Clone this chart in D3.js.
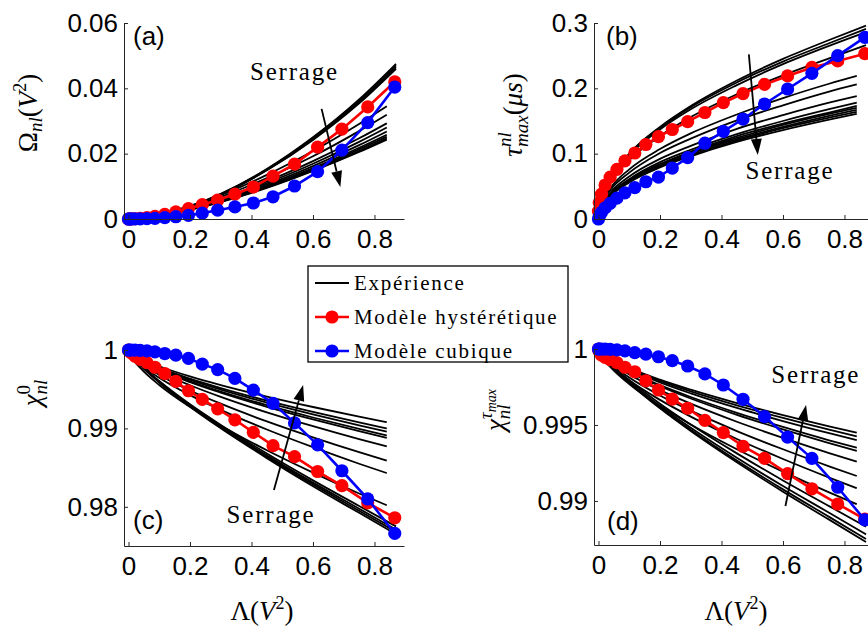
<!DOCTYPE html>
<html><head><meta charset="utf-8">
<script src="https://cdn.jsdelivr.net/npm/d3@7"></script>
<style>body{margin:0;background:#fff} svg{display:block}</style>
</head><body>
<svg id="c" width="868" height="627"></svg>
<script>
// ---------------- DATA ----------------
const xTicks = [0, 0.2, 0.4, 0.6, 0.8];
const xTickLabels = ['0', '0.2', '0.4', '0.6', '0.8'];

const xModel = [0, 0.0024, 0.0096, 0.0216, 0.038, 0.06, 0.086, 0.118, 0.154, 0.195, 0.24, 0.29, 0.346, 0.406, 0.47, 0.54, 0.615, 0.694, 0.778, 0.866];
const xExpLong = [0, 0.01, 0.04, 0.1, 0.2, 0.3, 0.45, 0.6, 0.75, 0.87];
const xExpShort = [0, 0.01, 0.04, 0.1, 0.2, 0.3, 0.45, 0.6, 0.75, 0.84];

// (a) Omega_nl
const omegaTicks = [0, 0.02, 0.04, 0.06];
const omegaTickLabels = ['0', '0.02', '0.04', '0.06'];
const omegaHyst = [0, 0.00001, 0.00002, 0.00008, 0.0002, 0.00045, 0.0008, 0.0014, 0.0022, 0.0032, 0.0044, 0.0058, 0.0076, 0.0098, 0.0131, 0.0168, 0.022, 0.0275, 0.0343, 0.042];
const omegaCubic = [0, 0, 0.00001, 0.00002, 0.00004, 0.0001, 0.0002, 0.0004, 0.0007, 0.0011, 0.0018, 0.0027, 0.0037, 0.0049, 0.0068, 0.0101, 0.0145, 0.0211, 0.0295, 0.0404];
const omegaExp = [
  [0, 0.00002, 0.00025, 0.0012, 0.0039, 0.0077, 0.0153, 0.0250, 0.0366, 0.0475],
  [0, 0.00002, 0.00025, 0.0012, 0.0038, 0.0076, 0.0152, 0.0248, 0.0362, 0.0470],
  [0, 0.00002, 0.00025, 0.0012, 0.0038, 0.0075, 0.0150, 0.0245, 0.0358, 0.0465],
  [0, 0.00002, 0.00024, 0.0011, 0.0038, 0.0075, 0.0149, 0.0242, 0.0354, 0.0460],
  [0, 0.00004, 0.00036, 0.0014, 0.0040, 0.0073, 0.0135, 0.0208, 0.0291, 0.0345],
  [0, 0.00004, 0.00033, 0.0013, 0.0037, 0.0068, 0.0125, 0.0192, 0.0269, 0.0319],
  [0, 0.00004, 0.00030, 0.0012, 0.0034, 0.0062, 0.0115, 0.0177, 0.0247, 0.0293],
  [0, 0.00004, 0.00029, 0.0011, 0.0032, 0.0060, 0.0110, 0.0169, 0.0236, 0.0280],
  [0, 0.00003, 0.00028, 0.0011, 0.0031, 0.0057, 0.0105, 0.0162, 0.0226, 0.0268],
  [0, 0.00003, 0.00027, 0.0011, 0.0030, 0.0055, 0.0101, 0.0156, 0.0218, 0.0258],
  [0, 0.00003, 0.00026, 0.0010, 0.0029, 0.0054, 0.0099, 0.0152, 0.0213, 0.0252],
  [0, 0.00003, 0.00026, 0.0010, 0.0029, 0.0053, 0.0097, 0.0149, 0.0208, 0.0247],
  [0, 0.00003, 0.00025, 0.0010, 0.0028, 0.0052, 0.0095, 0.0147, 0.0205, 0.0243]
];

// (b) tau_max^nl
const tauTicks = [0, 0.1, 0.2, 0.3];
const tauTickLabels = ['0', '0.1', '0.2', '0.3'];
const tauHyst = [0.012, 0.025, 0.038, 0.052, 0.064, 0.076, 0.089, 0.101, 0.114, 0.126, 0.137, 0.149, 0.163, 0.178, 0.192, 0.206, 0.219, 0.232, 0.242, 0.253];
const tauCubic = [0, 0.004, 0.010, 0.017, 0.024, 0.032, 0.040, 0.048, 0.057, 0.064, 0.078, 0.094, 0.116, 0.134, 0.153, 0.176, 0.199, 0.223, 0.250, 0.278];
const tauExp = [
  [0, 0.032, 0.063, 0.100, 0.141, 0.173, 0.212, 0.245, 0.274, 0.296],
  [0, 0.031, 0.062, 0.098, 0.139, 0.171, 0.209, 0.241, 0.269, 0.291],
  [0, 0.031, 0.061, 0.097, 0.137, 0.168, 0.205, 0.237, 0.265, 0.286],
  [0, 0.028, 0.057, 0.090, 0.127, 0.156, 0.191, 0.220, 0.246, 0.266],
  [0, 0.024, 0.048, 0.076, 0.107, 0.131, 0.160, 0.185, 0.207, 0.219],
  [0, 0.022, 0.045, 0.071, 0.101, 0.123, 0.151, 0.174, 0.195, 0.206],
  [0, 0.020, 0.041, 0.065, 0.092, 0.112, 0.138, 0.159, 0.178, 0.188],
  [0, 0.019, 0.039, 0.061, 0.087, 0.106, 0.130, 0.150, 0.168, 0.178],
  [0, 0.019, 0.038, 0.060, 0.084, 0.103, 0.127, 0.146, 0.163, 0.173],
  [0, 0.0185, 0.037, 0.059, 0.083, 0.102, 0.124, 0.144, 0.161, 0.170],
  [0, 0.018, 0.036, 0.058, 0.081, 0.100, 0.122, 0.141, 0.158, 0.167],
  [0, 0.018, 0.036, 0.057, 0.080, 0.098, 0.120, 0.139, 0.155, 0.164],
  [0, 0.018, 0.035, 0.056, 0.079, 0.096, 0.118, 0.136, 0.152, 0.161]
];

// (c) chi_nl^0
const chiTicks = [0.98, 0.99, 1];
const chiTickLabels = ['0.98', '0.99', '1'];
const chiHyst = [1, 0.99985, 0.9996, 0.9992, 0.9988, 0.9984, 0.9978, 0.9970, 0.9960, 0.9948, 0.9937, 0.9925, 0.9911, 0.9895, 0.9878, 0.9864, 0.9845, 0.9827, 0.9805, 0.9786];
const chiCubic = [1, 1, 1, 0.99998, 0.99995, 0.9999, 0.99976, 0.99955, 0.99934, 0.99894, 0.9982, 0.9975, 0.99638, 0.99489, 0.9932, 0.9907, 0.9879, 0.9846, 0.9810, 0.9766];
const chiExp = [
  [1, 0.99934, 0.99801, 0.99586, 0.99276, 0.99001, 0.98621, 0.98263, 0.97923, 0.9765],
  [1, 0.99935, 0.99803, 0.99592, 0.99285, 0.99014, 0.98638, 0.98286, 0.97949, 0.9768],
  [1, 0.99936, 0.99806, 0.99597, 0.99295, 0.99027, 0.98656, 0.98308, 0.97976, 0.9771],
  [1, 0.99937, 0.99809, 0.99604, 0.99307, 0.99044, 0.98679, 0.98337, 0.98011, 0.9775],
  [1, 0.99911, 0.99765, 0.99554, 0.99275, 0.99038, 0.98721, 0.98436, 0.98170, 0.9802],
  [1, 0.99929, 0.99814, 0.99646, 0.99425, 0.99237, 0.98986, 0.98760, 0.98549, 0.9843],
  [1, 0.99937, 0.99833, 0.99682, 0.99484, 0.99315, 0.99089, 0.98886, 0.98697, 0.9859],
  [1, 0.99945, 0.99854, 0.99723, 0.99550, 0.99402, 0.99205, 0.99028, 0.98863, 0.9877],
  [1, 0.99950, 0.99867, 0.99748, 0.99590, 0.99456, 0.99276, 0.99115, 0.98965, 0.9888],
  [1, 0.99951, 0.99871, 0.99754, 0.99601, 0.99470, 0.99296, 0.99139, 0.98993, 0.9891],
  [1, 0.99953, 0.99877, 0.99766, 0.99619, 0.99495, 0.99328, 0.99178, 0.99039, 0.9896],
  [1, 0.99955, 0.99881, 0.99775, 0.99634, 0.99514, 0.99354, 0.99210, 0.99076, 0.9900],
  [1, 0.99959, 0.99891, 0.99793, 0.99663, 0.99553, 0.99406, 0.99273, 0.99150, 0.9908]
];

// (d) chi_nl^tau_max
const chiTauTicks = [0.99, 0.995, 1];
const chiTauTickLabels = ['0.99', '0.995', '1'];
const chiTauHyst = [1, 0.99985, 0.9996, 0.99945, 0.9993, 0.9991, 0.9988, 0.9985, 0.9979, 0.9973, 0.9967, 0.9961, 0.9953, 0.9945, 0.9936, 0.9928, 0.9918, 0.9908, 0.9898, 0.9888];
const chiTauCubic = [1, 1, 1, 0.99999, 0.99997, 0.99994, 0.99988, 0.99976, 0.99966, 0.99949, 0.99923, 0.99888, 0.99836, 0.99763, 0.99669, 0.99555, 0.9942, 0.9928, 0.9909, 0.98875];
const chiTauExp = [
  [1, 0.99965, 0.99892, 0.99776, 0.99609, 0.99460, 0.99254, 0.99061, 0.98877, 0.9873],
  [1, 0.99965, 0.99894, 0.99780, 0.99615, 0.99469, 0.99266, 0.99076, 0.98895, 0.9875],
  [1, 0.99966, 0.99897, 0.99785, 0.99624, 0.99482, 0.99284, 0.99098, 0.98922, 0.9878],
  [1, 0.99967, 0.99901, 0.99794, 0.99640, 0.99503, 0.99313, 0.99135, 0.98966, 0.9883],
  [1, 0.99954, 0.99879, 0.99770, 0.99626, 0.99503, 0.99340, 0.99193, 0.99056, 0.98978],
  [1, 0.99959, 0.99891, 0.99794, 0.99665, 0.99555, 0.99408, 0.99276, 0.99154, 0.99084],
  [1, 0.99962, 0.99901, 0.99812, 0.99694, 0.99594, 0.99460, 0.99340, 0.99228, 0.99164],
  [1, 0.99967, 0.99912, 0.99833, 0.99729, 0.99640, 0.99521, 0.99415, 0.99315, 0.99259],
  [1, 0.99970, 0.99921, 0.99849, 0.99755, 0.99674, 0.99567, 0.99471, 0.99381, 0.9933],
  [1, 0.99971, 0.99923, 0.99853, 0.99762, 0.99684, 0.99580, 0.99487, 0.99399, 0.9935],
  [1, 0.99973, 0.99929, 0.99865, 0.99780, 0.99708, 0.99612, 0.99526, 0.99446, 0.9940],
  [1, 0.99974, 0.99932, 0.99870, 0.99790, 0.99721, 0.99629, 0.99546, 0.99469, 0.99425],
  [1, 0.99975, 0.99935, 0.99876, 0.99798, 0.99732, 0.99644, 0.99565, 0.99491, 0.99449]
];

const legendLabels = ['Expérience', 'Modèle hystérétique', 'Modèle cubique'];
const seriesColors = ['#000000', '#ff0000', '#0000ff'];

// ---------------- DRAWING ----------------
const SANS = "'Liberation Sans', Arial, Helvetica, sans-serif";
const SERIF = "'Liberation Serif', 'Times New Roman', serif";
const svg = d3.select('#c');
const xDomain = [-0.0146, 0.896];

const panels = [
  {left:124, top:23, bottom:219, yDomain:[0,0.06], ticks:omegaTicks, tickLabels:omegaTickLabels,
   exp:omegaExp, hyst:omegaHyst, cubic:omegaCubic, tag:'(a)', tagPos:[133,45],
   arrow:[[0.628,0.0337],[0.689,0.0098]], serrage:[0.395,0.0427],
   ylab:{pos:[37,113], parts:[{t:'Ω'},{t:'nl',it:1,size:19,shift:5},{t:'(',shift:0},{t:'V',it:1},{t:'2',size:18,shift:-11},{t:')',shift:0}]}},
  {left:594, top:23, bottom:219, yDomain:[0,0.3], ticks:tauTicks, tickLabels:tauTickLabels,
   exp:tauExp, hyst:tauHyst, cubic:tauCubic, tag:'(b)', tagPos:[606,45],
   arrow:[[0.489,0.252],[0.518,0.098]], serrage:[0.478,0.0608],
   ylab:{pos:[522,115], parts:[{t:'τ',it:1},{t:'nl',it:1,size:19,shift:-11},{t:'max',it:1,size:19,shift:6,back:1},{t:'(',shift:0},{t:'μs',it:1},{t:')'}]}},
  {left:124, top:350, bottom:546, yDomain:[0.975,1], ticks:chiTicks, tickLabels:chiTickLabels,
   exp:chiExp, hyst:chiHyst, cubic:chiCubic, tag:'(c)', tagPos:[133,529],
   arrow:[[0.473,0.98214],[0.568,0.99554]], serrage:[0.319,0.97797],
   ylab:{pos:[41,393], parts:[{t:'χ',it:1},{t:'0',size:19,shift:-11},{t:'nl',it:1,size:19,shift:6,back:1}]}},
  {left:594, top:349, bottom:545, yDomain:[0.9871,1], ticks:chiTauTicks, tickLabels:chiTauTickLabels,
   exp:chiTauExp, hyst:chiTauHyst, cubic:chiTauCubic, tag:'(d)', tagPos:[607,530],
   arrow:[[0.608,0.98967],[0.675,0.99631]], serrage:[0.562,0.99774],
   ylab:{pos:[504,410], parts:[{t:'χ',it:1},{t:'τ',it:1,size:19,shift:-12},{t:'max',it:1,size:14,shift:-8},{t:'nl',it:1,size:19,shift:6,back:2}]}}
];

function mathText(parent, x, y, rot, parts, size, anchor) {
  const t = parent.append('text')
    .attr('transform', `translate(${x},${y}) rotate(${rot})`)
    .attr('text-anchor', anchor || 'middle')
    .attr('font-family', SERIF).attr('font-size', size).attr('fill', '#000');
  let cur = 0;
  const spans = [];
  parts.forEach(p => {
    const ts = t.append('tspan').text(p.t);
    const sh = p.shift || 0;
    if (sh - cur !== 0) ts.attr('dy', sh - cur);
    cur = sh;
    if (p.it) ts.attr('font-style', 'italic');
    if (p.size) ts.attr('font-size', p.size);
    if (p.back) {
      let w = 0;
      for (let k = 1; k <= p.back; k++) w += spans[spans.length - k].node().getComputedTextLength();
      ts.attr('dx', -w);
    }
    spans.push(ts);
  });
  return t;
}

function drawArrow(g, x1, y1, x2, y2) {
  const dx = x2 - x1, dy = y2 - y1, L = Math.hypot(dx, dy);
  const ux = dx / L, uy = dy / L, nx = -uy, ny = ux;
  const hl = 16, hw = 5.5;
  const bx = x2 - ux * hl, by = y2 - uy * hl;
  g.append('line').attr('x1', x1).attr('y1', y1).attr('x2', bx).attr('y2', by)
    .attr('stroke', '#000').attr('stroke-width', 1.8);
  g.append('path').attr('d', `M${x2},${y2}L${bx + nx * hw},${by + ny * hw}L${bx - nx * hw},${by - ny * hw}Z`)
    .attr('fill', '#000');
}

panels.forEach(p => {
  const x = d3.scaleLinear().domain(xDomain).range([p.left, p.left + 280]);
  const y = d3.scaleLinear().domain(p.yDomain).range([p.bottom, p.top]);
  const g = svg.append('g');

  // experiment curves
  const smooth = d3.line().x(d => x(d[0])).y(d => y(d[1])).curve(d3.curveMonotoneX);
  p.exp.forEach((arr, i) => {
    const xs = i < 4 ? xExpLong : xExpShort;
    g.append('path').attr('d', smooth(xs.map((v, j) => [v, arr[j]])))
      .attr('fill', 'none').attr('stroke', seriesColors[0]).attr('stroke-width', 1.8);
  });

  // models
  const lin = d3.line().x(d => x(d[0])).y(d => y(d[1]));
  [[p.hyst, seriesColors[1]], [p.cubic, seriesColors[2]]].forEach(([arr, col]) => {
    const pts = xModel.map((v, j) => [v, arr[j]]);
    g.append('path').attr('d', lin(pts)).attr('fill', 'none').attr('stroke', col).attr('stroke-width', 2.6);
    g.append('g').selectAll('circle').data(pts).join('circle')
      .attr('cx', d => x(d[0])).attr('cy', d => y(d[1])).attr('r', 6.6).attr('fill', col);
  });

  // axes
  const axB = g.append('g').attr('transform', `translate(0,${p.bottom})`)
    .call(d3.axisBottom(x).tickValues(xTicks).tickFormat((d, i) => xTickLabels[i]).tickSize(-4).tickSizeOuter(0).tickPadding(11));
  const axL = g.append('g').attr('transform', `translate(${p.left},0)`)
    .call(d3.axisLeft(y).tickValues(p.ticks).tickFormat((d, i) => p.tickLabels[i]).tickSize(-4).tickSizeOuter(0).tickPadding(6));
  [axB, axL].forEach(a => {
    a.attr('font-family', SANS).attr('font-size', 26);
    a.selectAll('path,line').attr('stroke', '#262626').attr('stroke-width', 1);
    a.selectAll('text').attr('fill', '#000');
  });

  // tag
  g.append('text').attr('x', p.tagPos[0]).attr('y', p.tagPos[1]).attr('font-family', SANS)
    .attr('font-size', 26).attr('fill', '#000').text(p.tag);

  // arrow + Serrage
  drawArrow(g, x(p.arrow[0][0]), y(p.arrow[0][1]), x(p.arrow[1][0]), y(p.arrow[1][1]));
  g.append('text').attr('x', x(p.serrage[0])).attr('y', y(p.serrage[1]))
    .attr('font-family', SERIF).attr('font-size', 25).attr('letter-spacing', 1.8)
    .attr('fill', '#000').text('Serrage');

  // y label
  mathText(svg, p.ylab.pos[0], p.ylab.pos[1], -90, p.ylab.parts, 27);
});

// x-axis titles
const lamParts = [{t:'Λ('},{t:'V',it:1},{t:'2',size:18,shift:-11},{t:')',shift:0}];
mathText(svg, 262, 620, 0, lamParts, 27);
mathText(svg, 736, 620, 0, lamParts, 27);

// legend
const lg = svg.append('g');
lg.append('rect').attr('x', 308).attr('y', 266).attr('width', 260).attr('height', 96)
  .attr('fill', '#fff').attr('stroke', '#000').attr('stroke-width', 1.3);
const rowY = [283, 317, 351];
legendLabels.forEach((lab, i) => {
  lg.append('line').attr('x1', 315).attr('x2', 349).attr('y1', rowY[i]).attr('y2', rowY[i])
    .attr('stroke', seriesColors[i]).attr('stroke-width', i === 0 ? 2 : 2.6);
  if (i > 0) lg.append('circle').attr('cx', 332).attr('cy', rowY[i]).attr('r', 6.6).attr('fill', seriesColors[i]);
  lg.append('text').attr('x', 354).attr('y', rowY[i] + 7).attr('font-family', SERIF)
    .attr('font-size', 21).attr('letter-spacing', 1.7).attr('fill', '#000').text(lab);
});
</script></body></html>
